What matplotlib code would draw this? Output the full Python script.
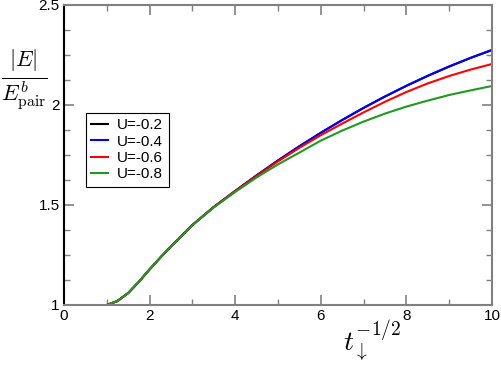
import matplotlib
matplotlib.use("Agg")
from matplotlib import pyplot as plt
from matplotlib.ticker import MultipleLocator, FormatStrFormatter
import numpy as np

# t_down^{-1/2} sample points
x = [1.0, 1.25, 1.5, 1.75, 2.0, 2.25, 2.5, 3.0, 3.5, 4.0, 4.5, 5.0, 5.5,
     6.0, 6.5, 7.0, 7.5, 8.0, 8.5, 9.0, 9.5, 10.0]

# |E| / E^b_pair for each U
e_u02 = [1.0, 1.02, 1.06, 1.116, 1.178, 1.237, 1.293, 1.40, 1.49, 1.57, 1.648, 1.7225, 1.7935,
         1.861, 1.925, 1.9855, 2.0425, 2.096, 2.146, 2.1925, 2.2355, 2.275]
e_u04 = [1.0, 1.02, 1.06, 1.116, 1.178, 1.237, 1.293, 1.40, 1.49, 1.57, 1.648, 1.7225, 1.7935,
         1.861, 1.925, 1.9855, 2.0425, 2.096, 2.146, 2.1925, 2.2355, 2.275]
e_u06 = [1.0, 1.02, 1.06, 1.116, 1.178, 1.237, 1.293, 1.40, 1.49, 1.569, 1.645, 1.718, 1.786,
         1.849, 1.907, 1.963, 2.016, 2.065, 2.108, 2.145, 2.177, 2.205]
e_u08 = [1.0, 1.02, 1.06, 1.116, 1.178, 1.237, 1.293, 1.399, 1.488, 1.565, 1.638, 1.703, 1.762,
         1.822, 1.872, 1.917, 1.957, 1.992, 2.022, 2.05, 2.073, 2.095]

labels = ["U=-0.2", "U=-0.4", "U=-0.6", "U=-0.8"]
colors = ["black", "#0000ff", "#ff0000", "#1e9a1e"]

plt.rcParams['font.family'] = ['Liberation Sans', 'DejaVu Sans']
plt.rcParams['mathtext.fontset'] = 'cm'

fig = plt.figure(figsize=(5.01, 3.66), dpi=100)
ax = fig.add_axes([64/501, 1-305/366, (492-64)/501, 300/366])

for ys, lab, c in zip([e_u02, e_u04, e_u06, e_u08], labels, colors):
    ax.plot(x, ys, color=c, lw=1.5, label=lab)

ax.set_xlim(0, 10)
ax.set_ylim(1, 2.5)
ax.xaxis.set_major_locator(MultipleLocator(2))
ax.xaxis.set_minor_locator(MultipleLocator(1))
ax.yaxis.set_major_locator(MultipleLocator(0.5))
ax.yaxis.set_minor_locator(MultipleLocator(0.125))
ax.yaxis.set_major_formatter(FormatStrFormatter('%g'))

ax.tick_params(which='both', direction='in', top=True, right=True,
               color='#808080', labelsize=11, pad=3)
ax.tick_params(which='major', length=7, width=1.2)
ax.tick_params(which='minor', length=4, width=1)
for side in ['top', 'right', 'bottom']:
    ax.spines[side].set_color('#808080')
    ax.spines[side].set_linewidth(1.5)
ax.spines['left'].set_color('black')
ax.spines['left'].set_linewidth(1.5)

leg = ax.legend(loc='upper left', bbox_to_anchor=(86/501, 1-113/366),
                bbox_transform=fig.transFigure, borderaxespad=0,
                fontsize=11, fancybox=False, framealpha=1, edgecolor='black',
                handlelength=1.1, handletextpad=0.6, labelspacing=0.15,
                borderpad=0.35)
leg.get_frame().set_linewidth(0.8)

fig.text(1/501, 1-80/366, r'$\frac{|E|}{E^b_{\rm pair}}$', fontsize=23,
         ha='left', va='center')
fig.text(372/501, 1-341/366, r'$t_\downarrow^{-1/2}$', fontsize=20,
         ha='center', va='center')

fig.savefig('out.png', dpi=100)
